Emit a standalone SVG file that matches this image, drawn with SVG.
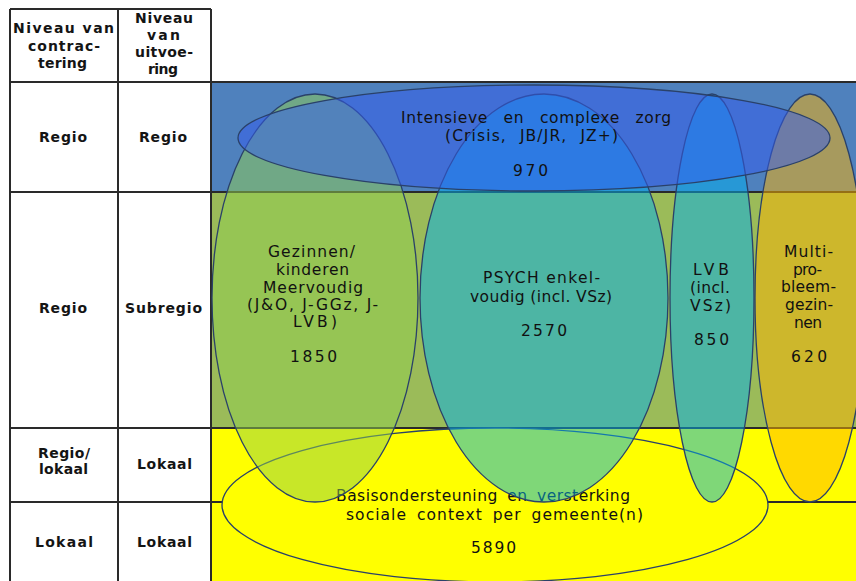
<svg xmlns="http://www.w3.org/2000/svg" width="856" height="581" viewBox="0 0 856 581">
<style>
.tb{font-family:"DejaVu Sans","Liberation Sans",sans-serif;font-size:14px;font-weight:bold;fill:#141414}
.tx{font-family:"DejaVu Sans","Liberation Sans",sans-serif;font-size:15.5px;fill:#111111}
.grid{stroke:#2a2a2a;stroke-width:2;fill:none}
.el{stroke:#2a4169;stroke-width:1.3}
</style>
<rect width="856" height="581" fill="#ffffff"/>
<g id="bands">
<rect x="211" y="82" width="645" height="110" fill="#4f81bd"/>
<rect x="211" y="192" width="645" height="236" fill="#9bbb59"/>
<rect x="211" y="428" width="645" height="153" fill="#ffff00"/>
</g>
<g id="table" class="grid">
<path d="M10 9H211M10 82H856M10 192H856M10 428H856M10 502H856M10 9V581M118 9V581M211 9V581"/>
</g>
<g id="basis">
<ellipse class="el" cx="495" cy="505" rx="273" ry="77" fill="#ffff00"/>
<text class="tx" x="336" y="501" textLength="294" lengthAdjust="spacing" word-spacing="4">Basisondersteuning en versterking</text>
<text class="tx" x="346" y="520" textLength="297" lengthAdjust="spacing" word-spacing="4">sociale context per gemeente(n)</text>
<text class="tx" x="471" y="553" textLength="45" lengthAdjust="spacing">5890</text>
</g>
<g id="ellipses">
<g id="gezinnen"><ellipse class="el" cx="315" cy="298" rx="103" ry="204" fill="#92d050" fill-opacity="0.5"/></g>
<g id="psych"><ellipse class="el" cx="544" cy="298" rx="124" ry="204" fill="#00b0f0" fill-opacity="0.5"/></g>
<g id="lvb"><ellipse class="el" cx="712" cy="298" rx="42" ry="204" fill="#00b0f0" fill-opacity="0.5"/></g>
<g id="multi"><ellipse class="el" cx="810" cy="298" rx="55" ry="204" fill="#ffb400" fill-opacity="0.5"/></g>
<g id="intensieve"><ellipse class="el" cx="534" cy="138" rx="296" ry="53" fill="#335cf0" fill-opacity="0.5"/></g>
</g>
<g id="labels">
<text class="tx" x="401" y="123" textLength="270" lengthAdjust="spacing" word-spacing="10">Intensieve en complexe zorg</text>
<text class="tx" x="445" y="141" textLength="173" lengthAdjust="spacing" word-spacing="7">(Crisis, JB/JR, JZ+)</text>
<text class="tx" x="513" y="176" textLength="35" lengthAdjust="spacing">970</text>

<text class="tx" x="268" y="257" textLength="87" lengthAdjust="spacing">Gezinnen/</text>
<text class="tx" x="276" y="275" textLength="73" lengthAdjust="spacing">kinderen</text>
<text class="tx" x="263" y="293" textLength="100" lengthAdjust="spacing">Meervoudig</text>
<text class="tx" x="247" y="310" textLength="131" lengthAdjust="spacing">(J&amp;O, J-GGz, J-</text>
<text class="tx" x="293" y="327" textLength="44" lengthAdjust="spacing">LVB)</text>
<text class="tx" x="290" y="362" textLength="47" lengthAdjust="spacing">1850</text>

<text class="tx" x="483" y="283" textLength="117" lengthAdjust="spacing">PSYCH enkel-</text>
<text class="tx" x="470" y="302" textLength="142" lengthAdjust="spacing">voudig (incl. VSz)</text>
<text class="tx" x="521" y="336" textLength="46" lengthAdjust="spacing">2570</text>

<text class="tx" x="693" y="275" textLength="36" lengthAdjust="spacing">LVB</text>
<text class="tx" x="690" y="293" textLength="40" lengthAdjust="spacing">(incl.</text>
<text class="tx" x="690" y="311" textLength="41" lengthAdjust="spacing">VSz)</text>
<text class="tx" x="694" y="345" textLength="35" lengthAdjust="spacing">850</text>

<text class="tx" x="784" y="257" textLength="49" lengthAdjust="spacing">Multi-</text>
<text class="tx" x="793" y="275" textLength="29" lengthAdjust="spacing">pro-</text>
<text class="tx" x="781" y="292" textLength="55" lengthAdjust="spacing">bleem-</text>
<text class="tx" x="785" y="310" textLength="48" lengthAdjust="spacing">gezin-</text>
<text class="tx" x="794" y="328" textLength="28" lengthAdjust="spacing">nen</text>
<text class="tx" x="791" y="362" textLength="36" lengthAdjust="spacing">620</text>
</g>
<g id="table-text">
<text class="tb" x="13" y="33" textLength="101" lengthAdjust="spacing">Niveau van</text>
<text class="tb" x="28" y="51" textLength="72" lengthAdjust="spacing">contrac-</text>
<text class="tb" x="38" y="68" textLength="49" lengthAdjust="spacing">tering</text>
<text class="tb" x="135" y="23" textLength="58" lengthAdjust="spacing">Niveau</text>
<text class="tb" x="147" y="40" textLength="33" lengthAdjust="spacing">van</text>
<text class="tb" x="135" y="57" textLength="58" lengthAdjust="spacing">uitvoe-</text>
<text class="tb" x="148" y="74" textLength="30" lengthAdjust="spacing">ring</text>
<text class="tb" x="39" y="142" textLength="48" lengthAdjust="spacing">Regio</text>
<text class="tb" x="139" y="142" textLength="48" lengthAdjust="spacing">Regio</text>
<text class="tb" x="39" y="313" textLength="48" lengthAdjust="spacing">Regio</text>
<text class="tb" x="125" y="313" textLength="77" lengthAdjust="spacing">Subregio</text>
<text class="tb" x="38" y="458" textLength="52" lengthAdjust="spacing" font-size="13">Regio/</text>
<text class="tb" x="39" y="474" textLength="49" lengthAdjust="spacing" font-size="13">lokaal</text>
<text class="tb" x="137" y="469" textLength="55" lengthAdjust="spacing">Lokaal</text>
<text class="tb" x="35" y="547" textLength="58" lengthAdjust="spacing">Lokaal</text>
<text class="tb" x="137" y="547" textLength="55" lengthAdjust="spacing">Lokaal</text>
</g>
</svg>
